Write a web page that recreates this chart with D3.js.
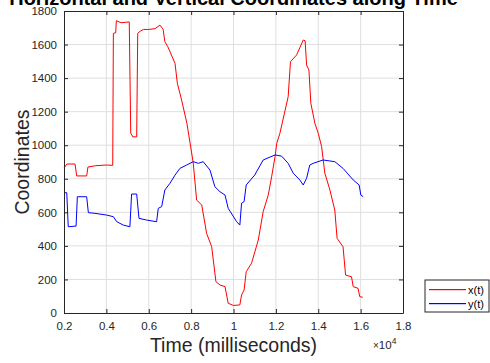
<!DOCTYPE html>
<html>
<head>
<meta charset="utf-8">
<script src="https://cdn.jsdelivr.net/npm/d3@7"></script>
<style>
  body { margin: 0; background: #fff; }
  svg text { font-family: "Liberation Sans", Arial, sans-serif; fill: #262626; }
</style>
</head>
<body>
<div id="chart"></div>
<script>
// time in milliseconds, coordinates
const xTime = [2000, 2140, 2520, 2600, 3070, 3130, 3500, 4000, 4300, 4330, 4440, 4470, 4600, 4700, 5080, 5150, 5250, 5430, 5480, 5600, 5750, 6000, 6300, 6530, 6680, 6760, 6900, 7240, 7350, 7550, 7800, 7950, 8100, 8260, 8500, 8730, 8970, 9170, 9360, 9600, 9750, 10000, 10300, 10380, 10500, 10600, 10850, 11170, 11400, 11640, 11800, 11960, 12040, 12190, 12580, 12690, 12980, 13290, 13380, 13450, 13560, 13650, 13840, 14000, 14160, 14310, 14550, 14780, 14890, 15170, 15290, 15570, 15650, 15880, 15960, 16100];
const xValues = [864, 888, 888, 817, 817, 870, 878, 882, 880, 1667, 1670, 1742, 1735, 1730, 1735, 1072, 1050, 1050, 1667, 1680, 1690, 1690, 1695, 1716, 1690, 1617, 1587, 1488, 1369, 1270, 1131, 1013, 894, 673, 644, 475, 395, 187, 167, 157, 58, 45, 48, 107, 137, 246, 296, 435, 604, 703, 812, 931, 1011, 1071, 1289, 1498, 1538, 1627, 1623, 1478, 1448, 1250, 1131, 1071, 991, 834, 733, 614, 445, 395, 226, 216, 157, 147, 97, 94];

const yTime = [2000, 2130, 2200, 2570, 2630, 3070, 3150, 3460, 4000, 4330, 4490, 4800, 5110, 5190, 5430, 5540, 5900, 6370, 6450, 6610, 6760, 7000, 7240, 7470, 7790, 8100, 8340, 8570, 8890, 9120, 9360, 9600, 9750, 10150, 10300, 10380, 10500, 10600, 11000, 11400, 11960, 12270, 12580, 12820, 13130, 13290, 13450, 13600, 13760, 14230, 14780, 15170, 15650, 15930, 16010, 16120];
const yValues = [717, 717, 514, 518, 693, 693, 598, 594, 584, 574, 544, 524, 514, 709, 709, 564, 554, 544, 624, 634, 733, 773, 822, 862, 882, 902, 892, 902, 852, 753, 723, 703, 624, 544, 524, 654, 664, 763, 822, 912, 942, 935, 892, 833, 793, 763, 803, 882, 892, 912, 902, 862, 793, 763, 703, 693];

const xTicks = [2000, 4000, 6000, 8000, 10000, 12000, 14000, 16000, 18000];
const yTicks = [0, 200, 400, 600, 800, 1000, 1200, 1400, 1600, 1800];
const seriesNames = ["x(t)", "y(t)"];
const seriesColors = ["#ff0000", "#0000ff"];

const W = 490, H = 363;
const margin = {top: 11, right: 87, bottom: 50, left: 64},
  width = W - margin.left - margin.right,
  height = H - margin.top - margin.bottom;

const svgRoot = d3.select("#chart").append("svg")
  .attr("width", W)
  .attr("height", H);

const svg = svgRoot.append("g")
  .attr("transform", `translate(${margin.left}, ${margin.top})`);

const x = d3.scaleLinear().domain([2000, 18000]).range([0, width]);
const y = d3.scaleLinear().domain([0, 1800]).range([height, 0]);

// grid
svg.append("g")
  .selectAll("line")
  .data(xTicks.slice(1, -1))
  .join("line")
  .attr("x1", d => x(d)).attr("x2", d => x(d))
  .attr("y1", 0).attr("y2", height)
  .attr("stroke", "#dfdfdf");
svg.append("g")
  .selectAll("line")
  .data(yTicks.slice(1, -1))
  .join("line")
  .attr("x1", 0).attr("x2", width)
  .attr("y1", d => y(d)).attr("y2", d => y(d))
  .attr("stroke", "#dfdfdf");

// lines
const series = [
  {name: seriesNames[0], color: seriesColors[0], t: xTime, v: xValues},
  {name: seriesNames[1], color: seriesColors[1], t: yTime, v: yValues}
];
const lineGen = d3.line().x(d => x(d[0])).y(d => y(d[1]));
svg.selectAll(".series")
  .data(series)
  .join("path")
  .attr("class", "series")
  .attr("fill", "none")
  .attr("stroke", d => d.color)
  .attr("stroke-width", 1)
  .attr("d", d => lineGen(d.t.map((t, i) => [t, d.v[i]])));

// axes, ticks pointing inward like matlab
const fmtX = d => d3.format(".1f")(d / 1e4).replace(/\.0$/, "");
svg.append("g")
  .attr("transform", `translate(0, ${height})`)
  .call(d3.axisBottom(x).tickValues(xTicks).tickFormat(fmtX).tickSizeInner(-4).tickSizeOuter(0).tickPadding(9));
svg.append("g")
  .call(d3.axisLeft(y).tickValues(yTicks).tickFormat(d3.format("d")).tickSizeInner(-4).tickSizeOuter(0).tickPadding(7));
svg.append("g")
  .call(d3.axisTop(x).tickValues(xTicks).tickFormat("").tickSizeInner(-4).tickSizeOuter(0));
svg.append("g")
  .attr("transform", `translate(${width}, 0)`)
  .call(d3.axisRight(y).tickValues(yTicks).tickFormat("").tickSizeInner(-4).tickSizeOuter(0));

svg.selectAll(".domain").attr("stroke", "#262626");
svg.selectAll(".tick line").attr("stroke", "#262626");
svg.selectAll(".tick text").style("font-size", "11.5px").style("fill", "#262626");

// title and labels
svgRoot.append("text")
  .attr("x", margin.left + width / 2)
  .attr("y", 4.5)
  .attr("text-anchor", "middle")
  .style("font-size", "20px")
  .style("font-weight", "bold")
  .style("fill", "#000")
  .text("Horizontal and Vertical Coordinates along Time");

svgRoot.append("text")
  .attr("x", margin.left + width / 2)
  .attr("y", 352)
  .attr("text-anchor", "middle")
  .style("font-size", "19.5px")
  .text("Time (milliseconds)");

svgRoot.append("text")
  .attr("transform", `translate(29, ${margin.top + height / 2}) rotate(-90)`)
  .attr("text-anchor", "middle")
  .style("font-size", "19.5px")
  .text("Coordinates");

const exp = svgRoot.append("text")
  .attr("x", 373)
  .attr("y", 349)
  .style("font-size", "11.5px");
exp.append("tspan").style("font-size", "10px").text("\u00d7");
exp.append("tspan").text("10");
exp.append("tspan").attr("dy", -5).style("font-size", "8.5px").text("4");

// legend
const legend = svgRoot.append("g").attr("transform", "translate(425, 280)");
legend.append("rect")
  .attr("width", 64).attr("height", 32)
  .style("fill", "#fff").style("stroke", "#262626");
legend.selectAll(".swatch")
  .data(seriesNames)
  .join("rect")
  .attr("class", "swatch")
  .attr("x", 4).attr("width", 37)
  .attr("y", (d, i) => 9 + i * 14).attr("height", 1.2)
  .style("fill", (d, i) => seriesColors[i]);
legend.selectAll(".label")
  .data(seriesNames)
  .join("text")
  .attr("class", "label")
  .attr("x", 43).attr("y", (d, i) => 13.5 + i * 14)
  .style("font-size", "11px")
  .style("fill", "#000")
  .text(d => d);
</script>
</body>
</html>
